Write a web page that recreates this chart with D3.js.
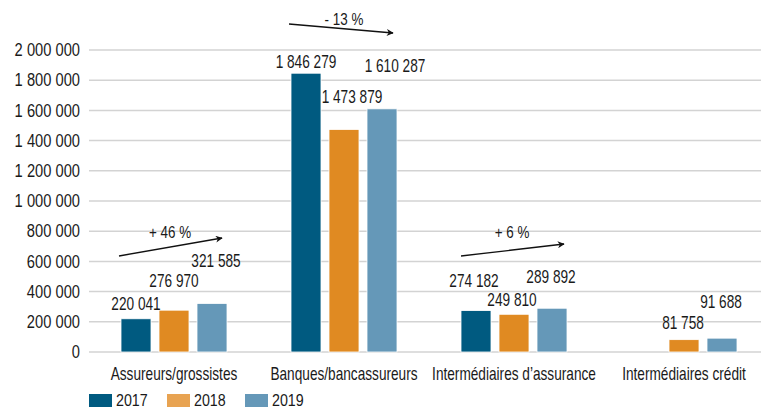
<!DOCTYPE html>
<html>
  <head>
    <meta charset="utf-8" />
    <script src="https://d3js.org/d3.v7.min.js"></script>
    <style>
      body { margin: 0; background: #fff; }
      svg { display: block; font-family: "Liberation Sans", Arial, sans-serif; }
      .grid line { stroke: #d3d3d3; stroke-width: 1.5; }
    </style>
  </head>
  <body>
    <svg width="761" height="410"></svg>
    <script>
      const categories = ["Assureurs/grossistes", "Banques/bancassureurs", "Intermédiaires d’assurance", "Intermédiaires crédit"];
      const years = ["2017", "2018", "2019"];
      const v2017 = [220041, 1846279, 274182, null];
      const v2018 = [276970, 1473879, 249810, 81758];
      const v2019 = [321585, 1610287, 289892, 91688];
      const yTicks = [0, 200000, 400000, 600000, 800000, 1000000, 1200000, 1400000, 1600000, 1800000, 2000000];
      const trends = ["+ 46 %", "- 13 %", "+ 6 %"];

      // décalage manuel des étiquettes (px), comme dans l'original
      const labelLift = [[15, 29, 43], [11, 33, 43], [30, 14, 31], [0, 17, 36]];
      const labelShift = [[0, 0, 4], [0, 8, 13], [-2, -2, -1], [0, -1, -1]];

      const colors = ["#005a80", "#e08a22", "#6598b8"];
      const legendColors = ["#005a80", "#e8a352", "#6598b8"];

      const svg = d3.select("svg");
      const x = d3.scaleBand().domain(categories).range([89, 769]);
      const xi = d3.scaleBand().domain(years).range([32, 138]).paddingInner(8 / 38);
      const y = d3.scaleLinear().domain([0, 2000000]).range([352, 50]);
      const fmt = (v) => d3.format(",")(v).replace(/,/g, " ");

      // texte "condensé" : Liberation Sans écrasé horizontalement
      function label(sel, px, py, s, size, anchor) {
        return sel
          .attr("transform", (d, i) => `translate(${px(d, i)},${py(d, i)}) scale(${s},1)`)
          .attr("dy", "0.35em")
          .attr("text-anchor", anchor)
          .attr("font-size", size)
          .attr("fill", "#1a1a1a");
      }

      // grille
      svg.append("g")
        .attr("class", "grid")
        .selectAll("line")
        .data(yTicks)
        .join("line")
        .attr("x1", 89)
        .attr("x2", 761)
        .attr("y1", (d) => y(d))
        .attr("y2", (d) => y(d));

      label(
        svg.append("g").selectAll("text").data(yTicks).join("text"),
        () => 80, (d) => y(d), 0.84, 17.5, "end"
      ).text(fmt);

      const series = [v2017, v2018, v2019];
      const rows = [];
      categories.forEach((c, i) => {
        series.forEach((s, j) => {
          if (s[i] != null) rows.push({ c, i, j, year: years[j], v: s[i] });
        });
      });

      svg.append("g")
        .selectAll("rect")
        .data(rows)
        .join("rect")
        .attr("x", (d) => x(d.c) + xi(d.year))
        .attr("width", xi.bandwidth())
        .attr("y", (d) => y(d.v))
        .attr("height", (d) => y(0) - y(d.v))
        .attr("fill", (d) => colors[d.j])
        .attr("stroke", "#fff")
        .attr("stroke-width", 0.8);

      label(
        svg.append("g").selectAll("text").data(rows).join("text"),
        (d) => x(d.c) + xi(d.year) + xi.bandwidth() / 2 + labelShift[d.i][d.j],
        (d) => y(d.v) - labelLift[d.i][d.j],
        0.78, 17.5, "middle"
      ).text((d) => fmt(d.v));

      label(
        svg.append("g").selectAll("text").data(categories).join("text"),
        (d) => x(d) + x.bandwidth() / 2, () => 374, 0.78, 17.5, "middle"
      ).text((d) => d);

      // flèches de tendance
      svg.append("defs")
        .append("marker")
        .attr("id", "head")
        .attr("viewBox", "0 0 10 10")
        .attr("refX", 9)
        .attr("refY", 5)
        .attr("markerWidth", 7)
        .attr("markerHeight", 7)
        .attr("markerUnits", "userSpaceOnUse")
        .attr("orient", "auto")
        .append("path")
        .attr("d", "M0,0 L10,5 L0,10 L3,5 Z")
        .attr("fill", "#111");

      const arrows = [
        { x1: 119, y1: 256, x2: 222, y2: 238, tx: 170, ty: 232 },
        { x1: 289, y1: 24, x2: 393, y2: 33, tx: 344, ty: 19 },
        { x1: 461, y1: 256, x2: 564, y2: 244, tx: 512, ty: 232 }
      ];
      svg.append("g")
        .selectAll("line")
        .data(arrows)
        .join("line")
        .attr("x1", (d) => d.x1).attr("y1", (d) => d.y1)
        .attr("x2", (d) => d.x2).attr("y2", (d) => d.y2)
        .attr("stroke", "#111")
        .attr("stroke-width", 1.3)
        .attr("marker-end", "url(#head)");
      label(
        svg.append("g").selectAll("text").data(arrows).join("text"),
        (d) => d.tx, (d) => d.ty, 0.84, 16, "middle"
      ).text((d, i) => trends[i]);

      // légende
      const legend = svg.append("g")
        .selectAll("g")
        .data(years)
        .join("g")
        .attr("transform", (d, i) => `translate(${89 + i * 78},394)`);
      legend.append("rect")
        .attr("width", 23)
        .attr("height", 13)
        .attr("fill", (d, i) => legendColors[i]);
      label(legend.append("text"), () => 27, () => 6.5, 0.84, 17, "start").text((d) => d);
    </script>
  </body>
</html>
